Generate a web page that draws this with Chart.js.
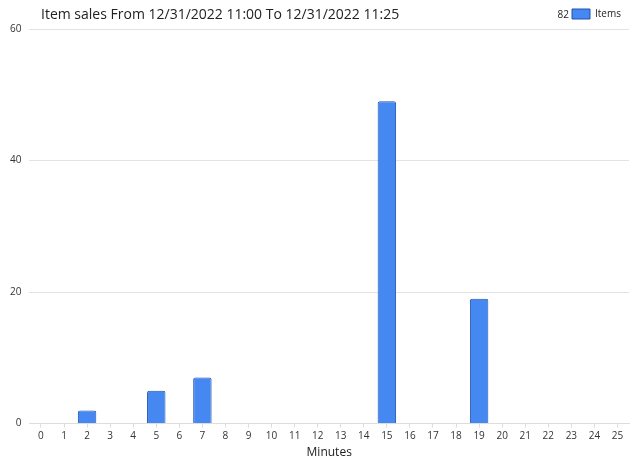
<!DOCTYPE html>
<html>
<head>
<meta charset="utf-8">
<script src="https://cdn.jsdelivr.net/npm/chart.js@4.4.1/dist/chart.umd.min.js"></script>
<style>
    html, body { margin: 0; padding: 0; background: #fff; }
    #wrap { width: 641px; height: 463px; }
</style>
</head>
<body>
<div id="wrap"><canvas id="graficoVendas"></canvas></div>
<script>
const minutos = ['0', '1', '2', '3', '4', '5', '6', '7', '8', '9', '10', '11', '12', '13', '14', '15', '16', '17', '18', '19', '20', '21', '22', '23', '24', '25'];
const vendas = [0, 0, 2, 0, 0, 5, 0, 7, 0, 0, 0, 0, 0, 0, 0, 49, 0, 0, 0, 19, 0, 0, 0, 0, 0, 0];
const yTicks = [0, 20, 40, 60];
const tituloTexto = 'Item sales From 12/31/2022 11:00 To 12/31/2022 11:25';
const serieNome = 'Items';

const fonte = "'Open Sans', 'Liberation Sans', sans-serif";

// titulo a esquerda e total ao lado da legenda, na mesma linha
const tituloLinha = {
    id: 'tituloLinha',
    afterDraw(chart) {
        const legenda = chart.legend;
        if (!legenda || !legenda.legendHitBoxes.length) return;
        const box = legenda.legendHitBoxes[0];
        const meioY = box.top + box.height / 2 + 1;
        const ctx = chart.ctx;
        ctx.save();
        ctx.textBaseline = 'middle';
        ctx.fillStyle = '#222';
        ctx.font = "14px " + fonte;
        ctx.textAlign = 'left';
        ctx.fillText(tituloTexto, 41, meioY);
        const total = vendas.reduce((acc, v) => acc + v, 0);
        ctx.font = "10px " + fonte;
        ctx.textAlign = 'right';
        ctx.fillText(String(total), box.left - 3, meioY);
        ctx.restore();
    }
};

const ctx = document.getElementById('graficoVendas').getContext('2d');
const chart = new Chart(ctx, {
    type: 'bar',
    data: {
        labels: minutos,
        datasets: [{
            label: serieNome,
            data: vendas,
            backgroundColor: '#4588f2',
            borderColor: '#2352b0',
            borderWidth: 1,
            borderRadius: 2,
            borderSkipped: 'bottom',
            barPercentage: 0.8,
            categoryPercentage: 1.0
        }]
    },
    options: {
        responsive: true,
        maintainAspectRatio: false,
        animation: false,
        layout: { padding: { left: 2, right: 12, top: 1, bottom: 3 } },
        plugins: {
            title: { display: false },
            tooltip: { enabled: false },
            legend: {
                position: 'top',
                align: 'end',
                labels: {
                    boxWidth: 18,
                    boxHeight: 10,
                    padding: 8,
                    color: '#222',
                    font: { family: fonte, size: 10 }
                }
            }
        },
        scales: {
            x: {
                grid: {
                    display: true,
                    drawOnChartArea: false,
                    drawTicks: true,
                    tickLength: 4,
                    offset: false,
                    color: '#ddd'
                },
                border: { display: true, color: '#ddd' },
                ticks: {
                    color: '#333',
                    autoSkip: false,
                    maxRotation: 0,
                    padding: 3,
                    font: { family: fonte, size: 10 }
                },
                title: {
                    display: true,
                    text: 'Minutes',
                    color: '#222',
                    padding: { top: 0, bottom: 0 },
                    font: { family: fonte, size: 12 }
                }
            },
            y: {
                min: 0,
                max: 60,
                afterBuildTicks: (axis) => {
                    axis.ticks = yTicks.map(v => ({ value: v }));
                },
                grid: { color: '#e3e3e3', drawTicks: false },
                border: { display: false },
                ticks: {
                    color: '#333',
                    padding: 8,
                    font: { family: fonte, size: 10 }
                }
            }
        }
    },
    plugins: [tituloLinha]
});
</script>
</body>
</html>
